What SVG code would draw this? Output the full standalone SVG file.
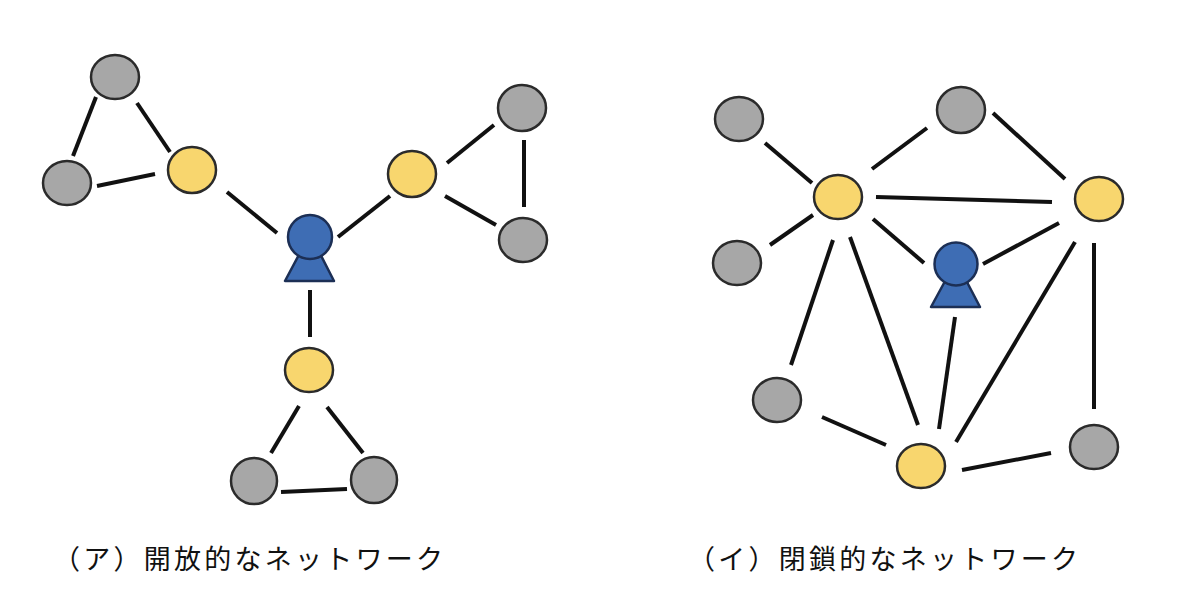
<svg xmlns="http://www.w3.org/2000/svg" width="1200" height="608" viewBox="0 0 1200 608">
<style>
.gray{fill:#a7a7a7;stroke:#2b2b2b;stroke-width:2.5}
.yellow{fill:#f8d66e;stroke:#2b2b2b;stroke-width:2.5}
.blue{fill:#3e6db4;stroke:#1c2f55;stroke-width:2.5;stroke-linejoin:round}
.edges line{stroke:#111;stroke-width:4}
.label{font-family:"Noto Sans CJK JP","Noto Sans CJK SC",sans-serif;font-size:27px;fill:#111}
</style>
<rect width="1200" height="608" fill="#fff"/>
<g class="edges" id="connectors">
<line x1="96" y1="97" x2="73" y2="156"/>
<line x1="137" y1="103" x2="170" y2="152"/>
<line x1="97" y1="186" x2="155" y2="174"/>
<line x1="227" y1="192" x2="277" y2="233"/>
<line x1="338" y1="237" x2="390" y2="196"/>
<line x1="447" y1="163" x2="494" y2="125"/>
<line x1="524" y1="140" x2="524" y2="207"/>
<line x1="445" y1="196" x2="496" y2="225"/>
<line x1="310" y1="290" x2="310" y2="337"/>
<line x1="299" y1="406" x2="271" y2="453"/>
<line x1="327" y1="407" x2="363" y2="453"/>
<line x1="281" y1="492" x2="347" y2="489"/>
<line x1="765" y1="143" x2="812" y2="183"/>
<line x1="770" y1="245" x2="813" y2="215"/>
<line x1="872" y1="169" x2="927" y2="128"/>
<line x1="993" y1="113" x2="1065" y2="179"/>
<line x1="876" y1="197" x2="1052" y2="202"/>
<line x1="873" y1="219" x2="924" y2="263"/>
<line x1="983" y1="264" x2="1059" y2="223"/>
<line x1="833" y1="240" x2="791" y2="365"/>
<line x1="850" y1="237" x2="918" y2="425"/>
<line x1="955" y1="317" x2="939" y2="429"/>
<line x1="1075" y1="242" x2="956" y2="442"/>
<line x1="1094" y1="243" x2="1094" y2="409"/>
<line x1="822" y1="417" x2="886" y2="445"/>
<line x1="962" y1="470" x2="1051" y2="453"/>
</g>
<g id="a-gray-top"><ellipse class="gray" cx="115" cy="77" rx="24" ry="22"/></g>
<g id="a-gray-left"><ellipse class="gray" cx="67" cy="183" rx="24" ry="22"/></g>
<g id="a-yellow-left"><ellipse class="yellow" cx="192" cy="170" rx="24" ry="23"/></g>
<g id="a-person"><polygon class="blue" points="310,234 285,281 334,281"/><circle class="blue" cx="310" cy="237" r="22"/></g>
<g id="a-yellow-right"><ellipse class="yellow" cx="412" cy="174" rx="24" ry="23"/></g>
<g id="a-gray-tr"><ellipse class="gray" cx="522" cy="108" rx="24" ry="23"/></g>
<g id="a-gray-br"><ellipse class="gray" cx="523" cy="240" rx="24" ry="22"/></g>
<g id="a-yellow-bottom"><ellipse class="yellow" cx="309" cy="370" rx="24" ry="22"/></g>
<g id="a-gray-bl"><ellipse class="gray" cx="254" cy="481" rx="23" ry="23"/></g>
<g id="a-gray-bbr"><ellipse class="gray" cx="374" cy="480" rx="23" ry="23"/></g>
<g id="b-gray-tl"><ellipse class="gray" cx="739" cy="119" rx="24" ry="22"/></g>
<g id="b-gray-top"><ellipse class="gray" cx="961" cy="110" rx="24" ry="23"/></g>
<g id="b-yellow-left"><ellipse class="yellow" cx="838" cy="197" rx="24" ry="22"/></g>
<g id="b-yellow-right"><ellipse class="yellow" cx="1099" cy="199" rx="24" ry="22"/></g>
<g id="b-gray-ml"><ellipse class="gray" cx="737" cy="263" rx="24" ry="22"/></g>
<g id="b-person"><polygon class="blue" points="956,261 931,307 980,307"/><circle class="blue" cx="956" cy="264" r="21.5"/></g>
<g id="b-gray-bl"><ellipse class="gray" cx="777" cy="400" rx="24" ry="22"/></g>
<g id="b-yellow-bottom"><ellipse class="yellow" cx="921" cy="466" rx="24" ry="22"/></g>
<g id="b-gray-br"><ellipse class="gray" cx="1094" cy="447" rx="24" ry="22"/></g>
<text class="label" x="53" y="569" textLength="390" lengthAdjust="spacing">（ア）開放的なネットワーク</text>
<text class="label" x="688" y="569" textLength="390" lengthAdjust="spacing">（イ）閉鎖的なネットワーク</text>
</svg>
